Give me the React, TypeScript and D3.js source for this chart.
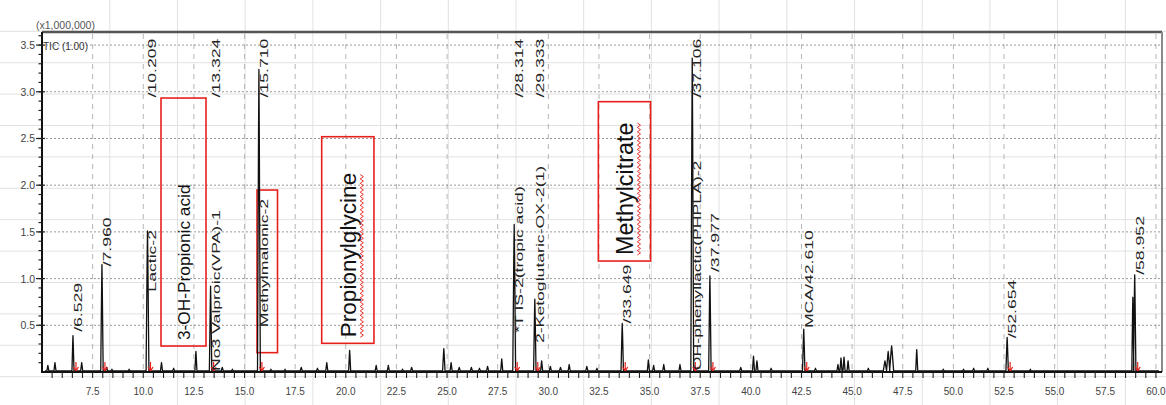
import React, { useMemo } from "react";
import * as d3 from "d3";

const W = 1166;
const H = 405;

// ---------- data ----------
// retention time (min), height (x1,000,000), half width (min)
const peakTimes = [
  5.29, 5.64, 6.529, 6.96, 7.96, 8.19, 8.45, 9.3, 10.209, 10.9, 11.5, 12.6, 13.324, 13.9, 14.4,
  15.71, 16.3, 17.0, 17.8, 18.6, 19.06, 20.19, 21.5, 22.1, 22.8, 23.25, 24.84, 25.2, 25.6, 26.2,
  26.6, 27.0, 27.7, 28.314, 29.333, 29.67, 30.1, 30.6, 31.03, 31.9, 32.4, 33.649, 34.94, 35.2,
  35.7, 36.5, 37.106, 37.977, 39.5, 40.13, 40.3, 41.0, 42.61, 43.19, 44.3, 44.45, 44.6, 44.8,
  45.8, 46.62, 46.78, 46.95, 48.19, 49.5, 50.5, 51.0, 51.7, 52.654, 53.8, 58.86, 58.952,
];
const peakHeights = [
  0.07, 0.1, 0.39, 0.1, 1.15, 0.05, 0.03, 0.03, 1.51, 0.1, 0.04, 0.22, 0.92, 0.05, 0.03,
  3.24, 0.03, 0.03, 0.05, 0.04, 0.1, 0.23, 0.07, 0.07, 0.03, 0.05, 0.25, 0.1, 0.05, 0.05,
  0.04, 0.06, 0.14, 1.58, 0.78, 0.12, 0.06, 0.05, 0.08, 0.06, 0.04, 0.52, 0.13, 0.07,
  0.08, 0.08, 3.36, 1.03, 0.05, 0.17, 0.12, 0.04, 0.46, 0.04, 0.08, 0.15, 0.16, 0.12,
  0.04, 0.12, 0.22, 0.28, 0.24, 0.03, 0.03, 0.04, 0.04, 0.37, 0.03, 0.8, 1.04,
];
const peakHalfWidths = [
  0.05, 0.05, 0.05, 0.05, 0.06, 0.05, 0.05, 0.05, 0.07, 0.05, 0.05, 0.05, 0.06, 0.05, 0.05,
  0.07, 0.05, 0.05, 0.05, 0.05, 0.05, 0.05, 0.05, 0.05, 0.05, 0.05, 0.06, 0.05, 0.05, 0.05,
  0.05, 0.05, 0.05, 0.07, 0.06, 0.05, 0.05, 0.05, 0.05, 0.05, 0.05, 0.06, 0.05, 0.05,
  0.05, 0.05, 0.07, 0.06, 0.05, 0.05, 0.05, 0.05, 0.06, 0.05, 0.05, 0.05, 0.05, 0.05,
  0.05, 0.08, 0.08, 0.1, 0.05, 0.05, 0.05, 0.05, 0.05, 0.06, 0.05, 0.05, 0.06,
];

// peak labels: text, retention time, start value (x1,000,000)
const labelTexts = [
  "/6.529", "/7.960", "Lactic-2", "/10.209", "/13.324", "No3 Valproic(VPA)-1", "/15.710",
  "Methylmalonic-2", "/28.314", "*T IS-2(tropic acid)", "/29.333", "2-Ketoglutaric-OX-2(1)",
  "/33.649", "/37.106", "OH-phenyllactic(PHPLA)-2", "/37.977", "MCA/42.610", "/52.654", "/58.952",
];
const labelTimes = [
  6.529, 7.96, 10.209, 10.209, 13.324, 13.324, 15.71, 15.71, 28.314, 28.314, 29.333, 29.333,
  33.649, 37.106, 37.106, 37.977, 42.61, 52.654, 58.952,
];
const labelValues = [
  0.43, 1.13, 0.86, 2.94, 2.94, 0.01, 2.94, 0.48, 2.94, 0.42, 2.94, 0.31, 0.52, 2.94, 0.02,
  1.07, 0.47, 0.36, 1.04,
];

// peaks marked with red arrows
const markedTimes = [6.529, 7.96, 10.209, 13.324, 15.71, 28.314, 29.333, 33.649, 37.106, 37.977, 42.61, 52.654, 58.952];

// annotation boxes (time range, value range)
const boxTexts = ["3-OH-Propionic acid", "", "Propionylglycine", "Methylcitrate"];
const boxT0 = [10.876, 15.616, 18.81, 32.47];
const boxT1 = [13.098, 16.628, 21.39, 35.05];
const boxV0 = [0.278, 0.207, 0.307, 1.188];
const boxV1 = [2.933, 1.948, 2.519, 2.894];
const boxFont = [17.3, 0, 22.6, 23.4];
const boxSquiggle = [false, false, true, true];

const xTicks = d3.range(7.5, 60.01, 2.5);
const xMinor = d3.range(5.5, 60.01, 0.5);
const yTicks = [0.5, 1.0, 1.5, 2.0, 2.5, 3.0, 3.5];
const yMinor = d3.range(0.1, 3.61, 0.1);

const xDomain: [number, number] = [5.0, 60.3];
const yDomain: [number, number] = [0, 3.64];

const LEFT = 42, RIGHT = 1162, TOP = 32, BOTTOM = 372;

function measure(text: string, size: number) {
  const c = document.createElement("canvas").getContext("2d");
  if (!c) return text.length * size * 0.5;
  c.font = `${size}px "Liberation Sans", Arial, sans-serif`;
  return c.measureText(text).width;
}

export default function App() {
  const x = d3.scaleLinear().domain(xDomain).range([LEFT, RIGHT]);
  const y = d3.scaleLinear().domain(yDomain).range([BOTTOM, TOP]);
  const base = 0.012;

  const tracePath = useMemo(() => {
    const peaks = peakTimes
      .map((t, i) => ({ t, h: peakHeights[i], w: peakHalfWidths[i] }))
      .sort((a, b) => a.t - b.t);
    const pts: [number, number][] = [[xDomain[0] + 0.15, base]];
    peaks.forEach((p) => {
      pts.push([p.t - p.w, base], [p.t - p.w * 0.25, p.h * 0.8], [p.t, p.h], [p.t + p.w * 0.25, p.h * 0.8], [p.t + p.w, base]);
    });
    pts.push([xDomain[1] - 0.15, base]);
    return d3.line<[number, number]>().x((d) => x(d[0])).y((d) => y(d[1]))(pts) || "";
  }, []);

  const sheetCols = d3.range(1, 18).map((k) => 42.1 + 67.7 * k).filter((v) => v < W);
  const sheetRows = d3.range(-1, 12).map((k) => 31.3 + 31.4 * k).filter((v) => v > 0 && v < H);

  const squiggle = (cx: number, yStart: number, yEnd: number) => {
    const step = 2.2;
    const n = Math.floor((yStart - yEnd) / step);
    const pts: [number, number][] = d3.range(n + 1).map((i) => [cx + (i % 2 === 0 ? -1.6 : 1.6), yStart - i * step]);
    return d3.line()(pts) || "";
  };

  const font = '"Liberation Sans", Arial, sans-serif';

  return (
    <svg width={W} height={H} style={{ position: "absolute", left: 0, top: 0, background: "#fff" }} fontFamily={font}>
      <rect width={W} height={H} fill="#fff" />
      {/* sheet grid behind */}
      {sheetCols.map((c, i) => (
        <line key={"sc" + i} x1={c} x2={c} y1={0} y2={H} stroke="#e2e2e2" strokeWidth={1} />
      ))}
      {sheetRows.map((r, i) => (
        <line key={"sr" + i} x1={0} x2={W} y1={r} y2={r} stroke="#e2e2e2" strokeWidth={1} />
      ))}

      {/* chart grid */}
      {xTicks.map((t) => (
        <line key={"gx" + t} x1={x(t)} x2={x(t)} y1={TOP + 2} y2={BOTTOM} stroke="#b5b5b5" strokeDasharray="5,5" strokeWidth={1} />
      ))}
      {yTicks.map((v) => (
        <line key={"gy" + v} x1={LEFT} x2={RIGHT} y1={y(v)} y2={y(v)} stroke="#9a9a9a" strokeDasharray="2,2" strokeWidth={1} />
      ))}

      {/* annotation boxes */}
      {boxT0.map((t0, i) => {
        const bx0 = x(t0), bx1 = x(boxT1[i]);
        const by0 = y(boxV1[i]), by1 = y(boxV0[i]);
        const cx = (bx0 + bx1) / 2;
        const fs = boxFont[i];
        const baseX = cx + fs * 0.716 / 2;
        const startY = by1 - 6;
        const len = boxTexts[i] ? measure(boxTexts[i], fs) : 0;
        return (
          <g key={"box" + i}>
            <rect x={bx0} y={by0} width={bx1 - bx0} height={by1 - by0} fill="none" stroke="#e8201c" strokeWidth={1.6} />
            {boxTexts[i] && (
              <text transform={`translate(${baseX},${startY}) rotate(-90)`} fontSize={fs} fill="#111">
                {boxTexts[i]}
              </text>
            )}
            {boxSquiggle[i] && (
              <path d={squiggle(baseX + fs * 0.26, startY, startY - len)} fill="none" stroke="#e8201c" strokeWidth={0.9} />
            )}
          </g>
        );
      })}

      {/* trace */}
      <path d={tracePath} fill="none" stroke="#111" strokeWidth={1.3} strokeLinejoin="round" />

      {/* red markers */}
      {markedTimes.map((t) => {
        const px = x(t) + 3;
        return (
          <path key={"m" + t} d={`M${px},${BOTTOM - 10}L${px},${BOTTOM - 1}M${px - 2.5},${BOTTOM - 5}L${px},${BOTTOM - 1}L${px + 2.5},${BOTTOM - 5}`} fill="none" stroke="#e8201c" strokeWidth={1.2} />
        );
      })}

      {/* peak labels */}
      {labelTexts.map((txt, i) => (
        <text key={"l" + i} transform={`translate(${x(labelTimes[i]) + 9},${y(labelValues[i])}) rotate(-90) scale(1.68,1)`} fontSize={10.5} fill="#222">
          {txt}
        </text>
      ))}

      {/* axes frame */}
      <line x1={LEFT} x2={RIGHT} y1={TOP} y2={TOP} stroke="#555" strokeWidth={2.5} />
      <line x1={RIGHT} x2={RIGHT} y1={TOP} y2={BOTTOM} stroke="#8a8a8a" strokeWidth={2} />
      <line x1={LEFT} x2={LEFT} y1={TOP} y2={BOTTOM + 1} stroke="#111" strokeWidth={2} />
      <line x1={LEFT} x2={RIGHT} y1={BOTTOM} y2={BOTTOM} stroke="#111" strokeWidth={2} />

      {/* y ticks */}
      {yMinor.map((v) => (
        <line key={"ym" + v.toFixed(1)} x1={LEFT - 3.5} x2={LEFT} y1={y(v)} y2={y(v)} stroke="#222" strokeWidth={1.2} />
      ))}
      {yTicks.map((v) => (
        <g key={"yt" + v}>
          <line x1={LEFT - 6} x2={LEFT + 3} y1={y(v)} y2={y(v)} stroke="#222" strokeWidth={1.2} />
          <text x={LEFT - 7} y={y(v) + 4} textAnchor="end" fontSize={10.5} fill="#444">
            {d3.format(".1f")(v)}
          </text>
        </g>
      ))}

      {/* x ticks */}
      {xMinor.map((t) => (
        <line key={"xm" + t} x1={x(t)} x2={x(t)} y1={BOTTOM} y2={BOTTOM + 6} stroke="#222" strokeWidth={1.1} />
      ))}
      {xTicks.map((t) => (
        <text key={"xt" + t} x={x(t)} y={395} textAnchor="middle" fontSize={10} fill="#444">
          {d3.format(".1f")(t)}
        </text>
      ))}

      {/* header texts */}
      <text x={36} y={29} fontSize={10.5} fill="#555">(x1,000,000)</text>
      <text x={43} y={50} fontSize={10} fill="#333">TIC (1.00)</text>
    </svg>
  );
}
